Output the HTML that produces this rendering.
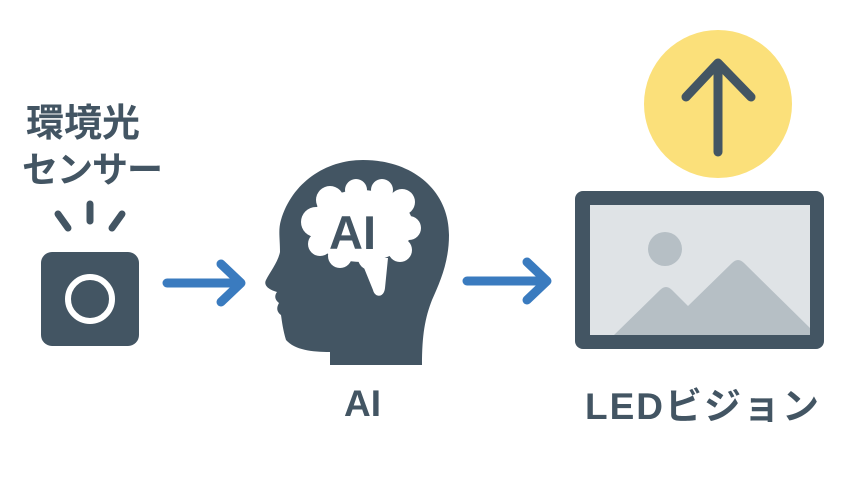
<!DOCTYPE html>
<html><head><meta charset="utf-8"><style>
html,body{margin:0;padding:0;background:#fff;}
body{width:856px;height:480px;overflow:hidden;position:relative;}
svg{position:absolute;left:0;top:0;}
text{font-family:"Liberation Sans","Noto Sans CJK JP",sans-serif;font-weight:bold;fill:#435563;}
</style></head><body>
<svg width="856" height="480" viewBox="0 0 856 480">
<text x="26" y="136" font-size="38" style="font-family:'Noto Sans CJK JP',sans-serif">環境光</text>
<text x="22" y="182" font-size="36" letter-spacing="-1" style="font-family:'Noto Sans CJK JP',sans-serif">センサー</text>
<g stroke="#435563" stroke-width="7" stroke-linecap="round">
<line x1="90" y1="204" x2="90" y2="221"/>
<line x1="58" y1="214" x2="68" y2="228"/>
<line x1="122" y1="214" x2="112" y2="228"/>
</g>
<rect x="41" y="252" width="98" height="94" rx="11" fill="#435563"/>
<circle cx="90" cy="299" r="22" fill="none" stroke="#fff" stroke-width="6"/>
<g stroke="#3a7bbf" stroke-width="9" stroke-linecap="round" stroke-linejoin="round" fill="none">
<line x1="167" y1="283" x2="240" y2="283"/><polyline points="221,264 241,283 221,302"/>
<line x1="467" y1="281" x2="546" y2="281"/><polyline points="527,262 547,281 527,300"/>
</g>
<path d="M363,160 C412,160 449,190 449,235 C449,262 440,282 432,300 C425,318 422,335 422,365 L330,365 L330,352 C312,352 295,350 286,340 C283,330 282,322 281,315 C277,312 276,308 279,303 C275,300 274,296 277,292 C270,290 263,286 266,280 C270,272 278,262 280,252 C280,238 278,230 281,220 C292,183 325,160 363,160 Z" fill="#435563"/>
<g fill="#fff">
<ellipse cx="361" cy="226" rx="52" ry="36"/>
<circle cx="316" cy="222" r="15"/><circle cx="330" cy="200" r="14"/><circle cx="356" cy="190" r="11"/>
<circle cx="382" cy="190" r="11"/><circle cx="402" cy="202" r="13"/><circle cx="409" cy="228" r="12"/>
<circle cx="400" cy="250" r="12"/><circle cx="370" cy="258" r="12"/><circle cx="340" cy="256" r="12"/><circle cx="320" cy="244" r="12"/>
<path d="M360,258 L388,258 L385,288 C384,298 375,298 373,290 Z"/>
</g>
<text x="329" y="249" font-size="47">AI</text>
<text x="344" y="416" font-size="37">AI</text>
<circle cx="718" cy="104" r="74" fill="#fbe07a"/>
<g stroke="#435563" stroke-width="9" stroke-linecap="round" stroke-linejoin="round" fill="none">
<line x1="718" y1="66" x2="718" y2="152"/><polyline points="686,97 718,63 751,97"/>
</g>
<rect x="575" y="191" width="249" height="158" rx="8" fill="#435563"/>
<rect x="590" y="205" width="220" height="130" fill="#dfe3e6"/>
<circle cx="665" cy="249" r="17" fill="#b6bfc5"/>
<path d="M614,335 L660,290 C664,286 668,286 672,290 L688,306 L732,263 C736,259 740,259 744,263 L810,328 L810,335 Z" fill="#b6bfc5"/>
<text x="585" y="419" font-size="37" letter-spacing="2" style="font-family:'Liberation Sans','Noto Sans CJK JP',sans-serif">LEDビジョン</text>
</svg>
</body></html>
